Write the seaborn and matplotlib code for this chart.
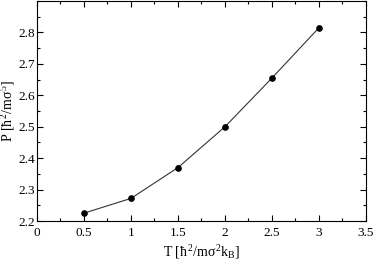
import matplotlib
matplotlib.use("Agg")
import matplotlib.pyplot as plt
import seaborn as sns
import pandas as pd
from matplotlib.ticker import MultipleLocator

# temperature and pressure
temps = [0.5, 1.0, 1.5, 2.0, 2.5, 3.0]
pressure = [2.225, 2.272, 2.370, 2.500, 2.655, 2.815]
perr = [0.004, 0.004, 0.004, 0.004, 0.004, 0.004]
xticks = [0, 0.5, 1, 1.5, 2, 2.5, 3, 3.5]
xticklabels = ["0", "0.5", "1", "1.5", "2", "2.5", "3", "3.5"]
yticks = [2.2, 2.3, 2.4, 2.5, 2.6, 2.7, 2.8]

df = pd.DataFrame({"T": temps, "P": pressure, "err": perr})

sns.set_style("ticks")
plt.rcParams['font.family'] = ['Liberation Serif', 'DejaVu Serif']
plt.rcParams['mathtext.fontset'] = 'custom'
plt.rcParams['mathtext.rm'] = 'Liberation Serif'
plt.rcParams['mathtext.it'] = 'Liberation Serif'
plt.rcParams['text.color'] = 'black'
plt.rcParams['axes.labelcolor'] = 'black'
plt.rcParams['xtick.color'] = 'black'
plt.rcParams['ytick.color'] = 'black'
plt.rcParams['axes.edgecolor'] = 'black'

fig = plt.figure(figsize=(3.74, 2.65), dpi=100)
ax = fig.add_axes([37/374, 1 - 221/265, 329/374, 220/265])

sns.lineplot(data=df, x="T", y="P", ax=ax, color="#333333", lw=0.8,
             marker="o", markersize=4, markerfacecolor="black",
             markeredgecolor="black")
ax.errorbar(df["T"], df["P"], yerr=df["err"], fmt="none", ecolor="black",
            elinewidth=0.8, capsize=1.5)

ax.set_xlim(0, 3.5)
ax.set_ylim(2.2, 2.9)
ax.set_xticks(xticks)
ax.set_xticklabels(xticklabels)
ax.set_yticks(yticks)
ax.xaxis.set_minor_locator(MultipleLocator(0.25))
ax.yaxis.set_minor_locator(MultipleLocator(0.05))
ax.tick_params(which="both", direction="in", top=True, right=True,
               labelsize=9.5, width=0.8)
ax.tick_params(axis="x", pad=4)
ax.tick_params(axis="y", pad=1.5)
ax.tick_params(which="major", length=4)
ax.tick_params(which="minor", length=2)
for s in ax.spines.values():
    s.set_linewidth(0.8)

ax.set_xlabel(r"T [$\hbar^2$/m$\sigma^2$k$_\mathrm{B}$]", fontsize=10, labelpad=3)
ax.set_ylabel(r"P [$\hbar^2$/m$\sigma^5$]", fontsize=10, labelpad=1)

fig.savefig("out.png", dpi=100)
